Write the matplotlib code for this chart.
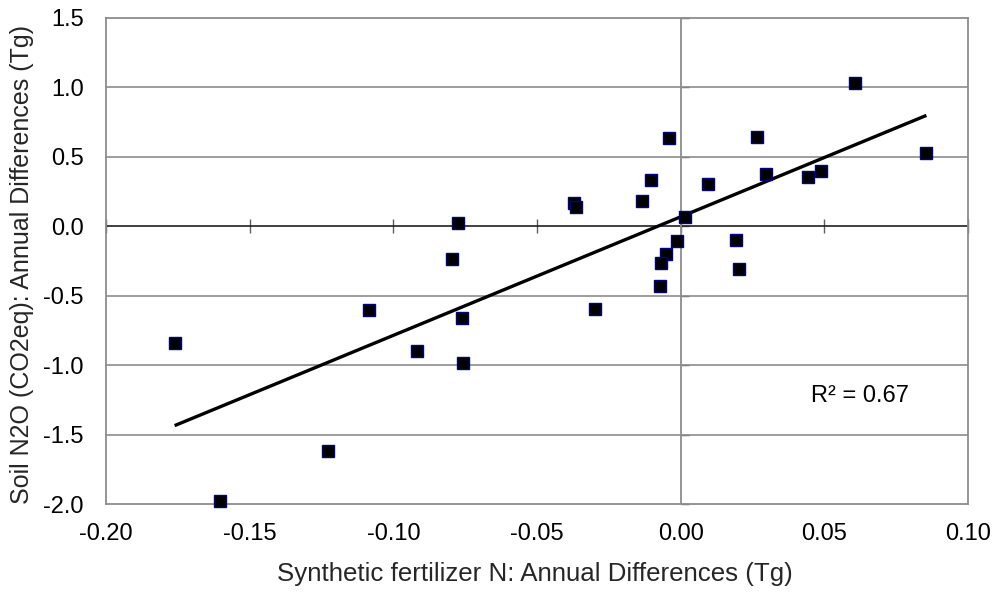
"""Scatter of soil N2O vs synthetic fertilizer N annual differences, with linear trend."""

import matplotlib
matplotlib.use("Agg")
import matplotlib.pyplot as plt
import numpy as np

plt.rcParams["font.family"] = ["Liberation Sans", "DejaVu Sans"]

# annual differences
fert_n = [0.0607, 0.0855, 0.0267, -0.0042, 0.0298, 0.0443, 0.0487, 0.0095,
          -0.0103, -0.0135, -0.0371, -0.0364, 0.0015, -0.0014, 0.0191, 0.0204,
          -0.0052, -0.0068, -0.0071, -0.0775, -0.0795, -0.1086, -0.0298,
          -0.0760, -0.0919, -0.0757, -0.1761, -0.1227, -0.1604]
soil_n2o = [1.035, 0.525, 0.645, 0.637, 0.380, 0.353, 0.401, 0.304,
            0.333, 0.182, 0.165, 0.139, 0.067, -0.108, -0.098, -0.310,
            -0.199, -0.261, -0.427, 0.023, -0.233, -0.603, -0.599,
            -0.663, -0.895, -0.986, -0.837, -1.620, -1.975]
r2_label = "R² = 0.67"

x_ticks = [-0.20, -0.15, -0.10, -0.05, 0.00, 0.05, 0.10]
y_ticks = [-2.0, -1.5, -1.0, -0.5, 0.0, 0.5, 1.0, 1.5]


def main() -> None:
    fig = plt.figure(figsize=(9.95, 5.92), dpi=100)
    ax = fig.add_axes([0.1065, 0.1486, 0.8664, 0.821])

    x = np.array(fert_n)
    y = np.array(soil_n2o)

    ax.set_xlim(x_ticks[0], x_ticks[-1])
    ax.set_ylim(y_ticks[0], y_ticks[-1])
    ax.set_xticks(x_ticks)
    ax.set_yticks(y_ticks)
    ax.set_xticklabels([f"{v:.2f}" for v in x_ticks])
    ax.set_yticklabels([f"{v:.1f}" for v in y_ticks])
    ax.tick_params(axis="x", length=0, labelsize=17, pad=14)
    ax.tick_params(axis="y", length=0, labelsize=17, pad=16)

    for side in ["left", "right", "top", "bottom"]:
        ax.spines[side].set_color("#8c8c8c")
        ax.spines[side].set_linewidth(1.3)

    # horizontal gridlines only
    for v in y_ticks[1:-1]:
        if v == 0:
            continue
        ax.axhline(v, color="#8c8c8c", lw=1.2, zorder=1)

    # axis line at y = 0 with crossing ticks
    ax.axhline(0, color="#202020", lw=1.2, zorder=1)
    xaxis0 = ax.secondary_xaxis((0 - y_ticks[0]) / (y_ticks[-1] - y_ticks[0]))
    xaxis0.set_xticks(x_ticks)
    xaxis0.tick_params(direction="inout", length=10, width=1.0, color="#606060",
                       labelbottom=False, labeltop=False)
    xaxis0.spines["bottom"].set_visible(False)
    xaxis0.spines["top"].set_visible(False)

    # axis line at x = 0 with short outward ticks
    ax.axvline(0, color="#8c8c8c", lw=1.3, zorder=1)
    yaxis0 = ax.secondary_yaxis((0 - x_ticks[0]) / (x_ticks[-1] - x_ticks[0]))
    yaxis0.set_yticks(y_ticks)
    yaxis0.tick_params(direction="out", length=6, width=1.0, color="#606060",
                       labelleft=False, labelright=False)
    yaxis0.spines["left"].set_visible(False)
    yaxis0.spines["right"].set_visible(False)

    # linear trend over the data range
    slope, intercept = np.polyfit(x, y, 1)
    xs = np.array([x.min(), x.max()])
    ax.plot(xs, slope * xs + intercept, color="black", lw=2.4, zorder=3,
            solid_capstyle="butt")

    ax.plot(x, y, linestyle="none", marker="s", markersize=8.2,
            markerfacecolor="black", markeredgecolor="#000080",
            markeredgewidth=1.0, zorder=4, clip_on=False)

    ax.text(0.0455, -1.22, r2_label, fontsize=17, va="center", ha="left")

    ax.set_xlabel("Synthetic fertilizer N: Annual Differences (Tg)", fontsize=18.6,
                  color="#262626")
    ax.xaxis.set_label_coords(0.497, -0.119)
    ax.set_ylabel("Soil N2O (CO2eq): Annual Differences (Tg)", fontsize=18,
                  color="#262626")
    ax.yaxis.set_label_coords(-0.0835, 0.492)

    fig.savefig("out.png", dpi=100)
    plt.close(fig)


if __name__ == "__main__":
    main()
